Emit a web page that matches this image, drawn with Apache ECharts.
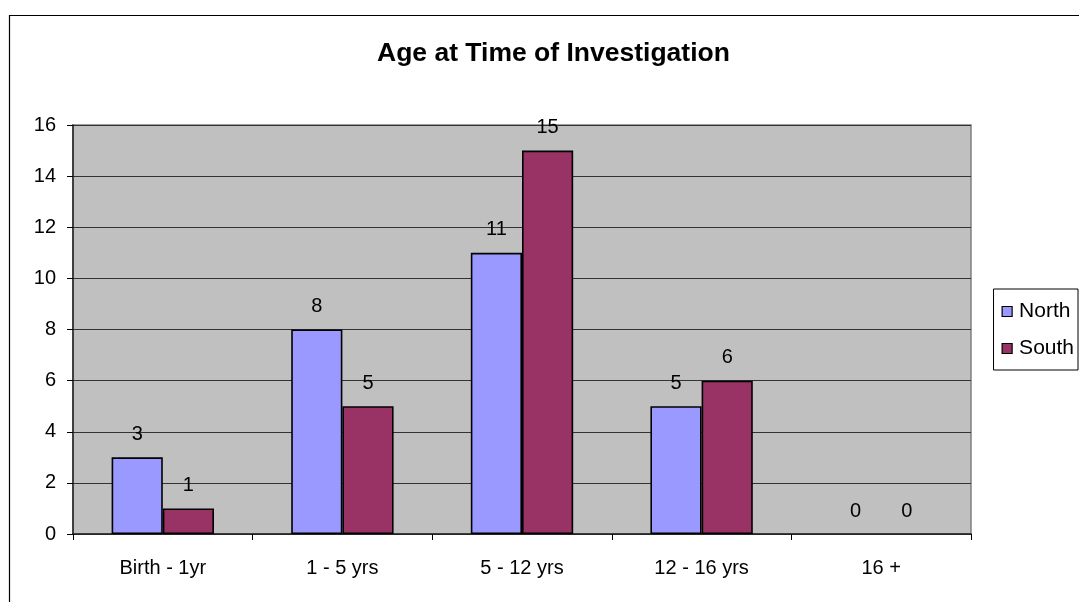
<!DOCTYPE html>
<html>
<head>
<meta charset="utf-8">
<script src="https://cdn.jsdelivr.net/npm/echarts@6/dist/echarts.min.js"></script>
<style>
  html, body { margin: 0; padding: 0; background: #fff; }
  #main { width: 1079px; height: 602px; }
</style>
</head>
<body>
<div id="main"></div>
<script>
//数据
var categories = ['Birth - 1yr', '1 - 5 yrs', '5 - 12 yrs', '12 - 16 yrs', '16 +'];
var northValues = [3, 8, 11, 5, 0];
var southValues = [1, 5, 15, 6, 0];
var seriesNames = ['North', 'South'];

var font = 'Liberation Sans, Arial, sans-serif';
var chart = echarts.init(document.getElementById('main'));

//柱状公共样式 (值为0时不画边框)
function barSeries(name, values, color) {
    return {
        name: name,
        type: 'bar',
        data: values.map(function (v) {
            return v === 0 ? { value: v, itemStyle: { borderWidth: 0 } } : v;
        }),
        barGap: '0%',
        barCategoryGap: '43%',
        itemStyle: { color: color, borderColor: '#000', borderWidth: 1.6 },
        label: {
            show: true,
            position: 'top',
            distance: 13,
            color: '#000',
            fontFamily: font,
            fontSize: 20
        }
    };
}

chart.setOption({
    animation: false,
    title: {
        text: 'Age at Time of Investigation',
        left: 372,
        top: 35,
        textStyle: { fontFamily: font, fontSize: 26.5, fontWeight: 'bold', color: '#000' }
    },
    graphic: [{
        type: 'rect',
        shape: { x: 9.5, y: 15.5, width: 1100, height: 620 },
        style: { fill: 'none', stroke: '#000', lineWidth: 1.2 },
        z: -1
    }],
    legend: {
        orient: 'vertical',
        right: 1,
        top: 289,
        data: seriesNames,
        icon: 'rect',
        itemWidth: 10,
        itemHeight: 10,
        itemGap: 16,
        padding: [12, 4, 11, 8],
        borderColor: '#000',
        borderWidth: 1,
        itemStyle: { borderColor: '#000', borderWidth: 1.2 },
        textStyle: { fontFamily: font, fontSize: 21, color: '#000', padding: [0, 0, 0, 2] }
    },
    grid: {
        left: 73,
        right: 108,
        top: 125,
        bottom: 68,
        show: true,
        backgroundColor: '#C0C0C0',
        borderColor: '#808080',
        borderWidth: 1.5
    },
    xAxis: {
        type: 'category',
        data: categories,
        axisLine: { lineStyle: { color: '#222', width: 1.5 } },
        axisTick: { show: true, alignWithLabel: false, length: 6, lineStyle: { color: '#000' } },
        axisLabel: { fontFamily: font, fontSize: 20, color: '#000', margin: 24 }
    },
    yAxis: {
        type: 'value',
        min: 0,
        max: 16,
        interval: 2,
        axisLine: { show: true, lineStyle: { color: '#222', width: 1.5 } },
        axisTick: { show: true, length: 6, lineStyle: { color: '#000' } },
        axisLabel: { fontFamily: font, fontSize: 20, color: '#000', margin: 17 },
        splitLine: { lineStyle: { color: '#333', width: 1 } }
    },
    series: [
        barSeries(seriesNames[0], northValues, '#9999FF'),
        barSeries(seriesNames[1], southValues, '#993366')
    ]
});
</script>
</body>
</html>
